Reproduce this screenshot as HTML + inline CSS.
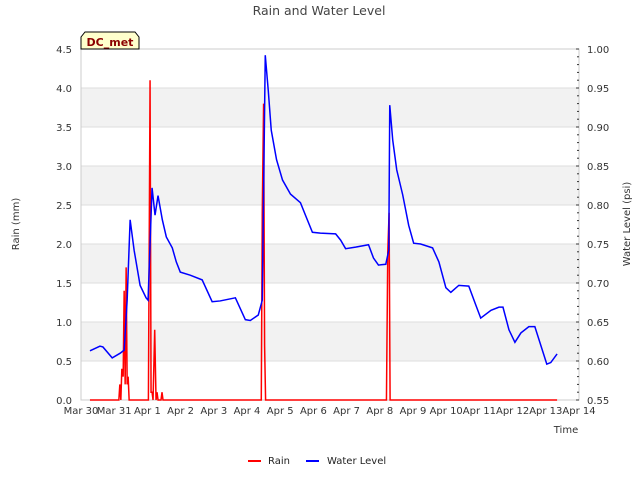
<!DOCTYPE html>
<html><head><meta charset="utf-8"><style>
body{margin:0;background:#fff;font-family:"Liberation Sans","DejaVu Sans",sans-serif}
svg text{font-family:"DejaVu Sans","Liberation Sans",sans-serif;}
</style></head><body>
<svg id="chart" width="640" height="480" xmlns="http://www.w3.org/2000/svg">
<text x="319" y="15" text-anchor="middle" font-size="12.5" fill="#444">Rain and Water Level</text>
<g id="bands"></g>
<g id="grid"></g>
<rect x="81" y="49" width="498" height="351" fill="none" stroke="#ccc"/>
<g id="axes"></g>
<g id="series"></g>
<text x="19" y="224" transform="rotate(-90 19 224)" text-anchor="middle" font-size="10" fill="#333">Rain (mm)</text>
<text x="630" y="224" transform="rotate(-90 630 224)" text-anchor="middle" font-size="10" fill="#333">Water Level (psi)</text>
<text x="566" y="433" text-anchor="middle" font-size="10" fill="#333">Time</text>
<g>
<path d="M81,49 L81,37 L85,32 L135,32 L139,37 L139,49 Z" fill="#ffffcc" stroke="#000"/>
<text x="110" y="46" text-anchor="middle" font-size="11" font-weight="bold" fill="#8b0000">DC_met</text>
</g>
<g>
<g><line x1="248" y1="461" x2="261" y2="461" stroke="red" stroke-width="2"/><text x="268" y="464" font-size="10" fill="#222">Rain</text></g>
<g><line x1="306" y1="461" x2="319" y2="461" stroke="blue" stroke-width="2"/><text x="327" y="464" font-size="10" fill="#222">Water Level</text></g>
</g>
</svg>
<script>
const xTickLabels=["Mar 30","Mar 31","Apr 1","Apr 2","Apr 3","Apr 4","Apr 5","Apr 6","Apr 7","Apr 8","Apr 9","Apr 10","Apr 11","Apr 12","Apr 13","Apr 14"];
const leftTicks=[0,0.5,1,1.5,2,2.5,3,3.5,4,4.5];
const rightTicks=[0.55,0.6,0.65,0.7,0.75,0.8,0.85,0.9,0.95,1.0];
const wlDays=[0.27,0.57,0.66,0.94,1.18,1.30,1.39,1.48,1.6,1.78,1.96,2.02,2.14,2.23,2.32,2.45,2.57,2.75,2.87,2.99,3.29,3.65,3.95,4.19,4.65,4.95,5.10,5.34,5.46,5.55,5.64,5.73,5.89,6.07,6.31,6.61,6.76,6.97,7.21,7.67,7.82,7.97,8.27,8.66,8.81,8.96,9.18,9.27,9.30,9.39,9.51,9.69,9.87,10.02,10.23,10.59,10.78,10.99,11.14,11.38,11.68,11.89,12.04,12.35,12.59,12.71,12.89,13.07,13.25,13.49,13.67,13.85,14.03,14.15,14.34];
const wlValues=[0.613,0.619,0.618,0.604,0.610,0.614,0.678,0.781,0.742,0.697,0.681,0.678,0.822,0.787,0.812,0.781,0.759,0.745,0.727,0.714,0.710,0.704,0.676,0.677,0.681,0.653,0.652,0.659,0.678,0.992,0.947,0.896,0.858,0.832,0.814,0.803,0.787,0.765,0.764,0.763,0.755,0.744,0.746,0.749,0.732,0.723,0.724,0.742,0.928,0.883,0.845,0.813,0.774,0.751,0.750,0.745,0.727,0.694,0.688,0.697,0.696,0.672,0.655,0.665,0.669,0.669,0.640,0.624,0.636,0.644,0.644,0.620,0.596,0.598,0.609];
const rainDays=[0.27,1.14,1.17,1.20,1.23,1.27,1.30,1.33,1.36,1.39,1.42,1.45,1.48,1.51,1.54,2.03,2.08,2.11,2.14,2.17,2.22,2.26,2.29,2.32,2.35,2.41,2.44,2.47,5.43,5.46,5.50,5.53,5.56,5.60,9.20,9.24,9.28,9.31,9.34,14.34];
const rainValues=[0,0,0.2,0,0.4,0.3,1.4,0.2,1.7,0.2,0.3,0,0,0,0,0,4.1,0.1,0.1,0,0.9,0,0.1,0,0,0,0.1,0,0,2.4,3.8,0.7,0,0,0,1.9,2.4,0,0,0];
const NS="http://www.w3.org/2000/svg";
const X0=81,X1=579,Y0=400,Y1=49;
const xs=d=>X0+d*(X1-X0)/15;
const yL=v=>Y0-v*(Y0-Y1)/4.5;
const yR=v=>Y0-(v-0.55)*(Y0-Y1)/0.45;
function mk(tag,attrs,parent){const e=document.createElementNS(NS,tag);for(const k in attrs)e.setAttribute(k,attrs[k]);parent.appendChild(e);return e;}
const bands=document.getElementById('bands'),grid=document.getElementById('grid'),axes=document.getElementById('axes'),series=document.getElementById('series');
for(let i=0;i<leftTicks.length-1;i++){if(i%2===1){const r=mk('rect',{x:X0,y:yL(leftTicks[i+1]),width:X1-X0,height:yL(leftTicks[i])-yL(leftTicks[i+1]),fill:'#f2f2f2'},bands);

}}
leftTicks.forEach(v=>{const l=mk('line',{x1:X0,x2:X1,y1:yL(v),y2:yL(v),stroke:'#ddd'},grid);


const t=mk('text',{x:X0-9,y:yL(v)+4,'text-anchor':'end','font-size':10,fill:'#333'},axes);t.textContent=v.toFixed(1);

});
rightTicks.forEach(v=>{const t=mk('text',{x:X1+8,y:yR(v)+4,'font-size':10,fill:'#333'},axes);t.textContent=v.toFixed(2);


mk('line',{x1:X1-3,x2:X1,y1:yR(v),y2:yR(v),stroke:'#333'},axes);});
for(let k=0;k<=45;k++){const v=0.55+k*0.01;mk('line',{x1:X1-2,x2:X1,y1:yR(v),y2:yR(v),stroke:'#333'},axes);}
xTickLabels.forEach((s,i)=>{const t=mk('text',{x:xs(i),y:414,'text-anchor':'middle','font-size':10,fill:'#333'},axes);t.textContent=s;

});
const rp=mk('polyline',{points:rainDays.map((d,i)=>xs(d)+','+yL(rainValues[i])).join(' '),fill:'none',stroke:'red','stroke-width':1.5},series);


const wp=mk('polyline',{points:wlDays.map((d,i)=>xs(d)+','+yR(wlValues[i])).join(' '),fill:'none',stroke:'blue','stroke-width':1.5},series);


</script>
</body></html>
